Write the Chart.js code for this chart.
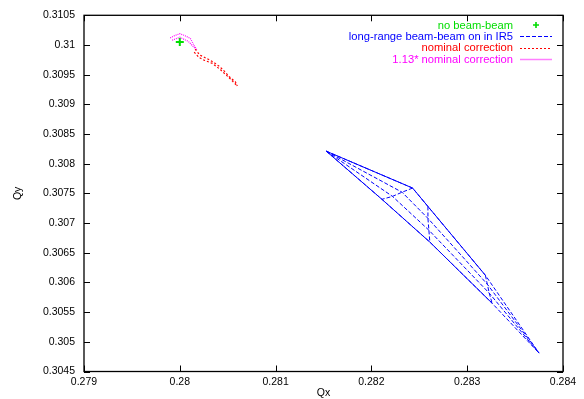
<!DOCTYPE html>
<html>
<head>
<meta charset="utf-8">
<script src="https://cdn.jsdelivr.net/npm/chart.js@4.4.1/dist/chart.umd.min.js"></script>
<style>
  html, body { margin: 0; padding: 0; background: #fff; }
  #wrap { width: 584px; height: 399px; }
</style>
</head>
<body>
<div id="wrap"><canvas id="tune-footprint" width="584" height="399"></canvas></div>
<script>
// axis ranges / ticks
const xTicks = [0.279, 0.284, 0.001];
const yTicks = [0.3045, 0.3105, 0.0005];

// no beam-beam
const greenQx = [0.28];
const greenQy = [0.31005];

// long-range beam-beam in IR5 (footprint mesh, null = pen up)
const blueQx = [
  0.28153, 0.28243, 0.28259, 0.28319, 0.28375, null,
  0.28153, 0.28232, 0.28259, 0.28321, 0.28375, null,
  0.28153, 0.28222, 0.28260, 0.28323, 0.28375, null,
  0.28153, 0.28211, 0.28261, 0.28326, 0.28375, null,
  0.28243, 0.28232, 0.28222, 0.28211, null,
  0.28259, 0.28259, 0.28260, 0.28261, null,
  0.28319, 0.28321, 0.28323, 0.28326
];
const blueQy = [
  0.30821, 0.30759, 0.30728, 0.30612, 0.30481, null,
  0.30821, 0.30752, 0.30708, 0.30597, 0.30481, null,
  0.30821, 0.30745, 0.30688, 0.30582, 0.30481, null,
  0.30821, 0.30740, 0.30668, 0.30565, 0.30481, null,
  0.30759, 0.30752, 0.30745, 0.30740, null,
  0.30728, 0.30708, 0.30688, 0.30668, null,
  0.30612, 0.30597, 0.30582, 0.30565
];
// edges that are traced over several times and look solid
const blueEdgeQx = [0.28153, 0.28243, 0.28319, null, 0.28153, 0.28211, 0.28261, 0.28326];
const blueEdgeQy = [0.30821, 0.30759, 0.30612, null, 0.30821, 0.30740, 0.30668, 0.30565];

// nominal correction
const redQx = [
  0.28016, 0.28021, 0.28026, 0.28032, 0.28037, 0.28042, 0.28047, 0.28052, 0.28058, 0.28060, null,
  0.28015, 0.28020, 0.28026, 0.28034, 0.28042, 0.28052, 0.28060
];
const redQy = [
  0.30993, 0.30983, 0.30979, 0.30974, 0.30969, 0.30963, 0.30955, 0.30946, 0.30938, 0.30931, null,
  0.30988, 0.30979, 0.30974, 0.30969, 0.30959, 0.30944, 0.30931
];

// 1.13* nominal correction
const magentaQx = [
  0.27990, 0.27995, 0.28000, 0.28005, 0.28011, 0.28014, 0.28018, null,
  0.27992, 0.28000, 0.28009, 0.28016
];
const magentaQy = [
  0.31012, 0.31016, 0.31019, 0.31016, 0.31011, 0.31002, 0.30991, null,
  0.31008, 0.31013, 0.31006, 0.30994
];

const FAMILY = '"Liberation Sans", Arial, Helvetica, sans-serif';
const FONT = { family: FAMILY, size: 10.5 };

function pts(xs, ys) {
  return xs.map((x, i) => ({ x: x, y: ys[i] }));
}
function fmt(v) {
  return String(parseFloat(v.toFixed(4)));
}

// gnuplot style frame with inward ticks on all four sides
const framePlugin = {
  id: "gpFrame",
  afterDatasetsDraw(chart) {
    const ctx = chart.ctx;
    const a = chart.chartArea;
    const tl = 6;
    ctx.save();
    ctx.strokeStyle = "#000";
    ctx.lineWidth = 1;
    ctx.setLineDash([]);
    ctx.beginPath();
    chart.scales.x.ticks.forEach((t) => {
      const px = Math.round(chart.scales.x.getPixelForValue(t.value)) + 0.5;
      ctx.moveTo(px, a.bottom); ctx.lineTo(px, a.bottom - tl);
      ctx.moveTo(px, a.top); ctx.lineTo(px, a.top + tl);
    });
    chart.scales.y.ticks.forEach((t) => {
      const py = Math.round(chart.scales.y.getPixelForValue(t.value)) + 0.5;
      ctx.moveTo(a.left, py); ctx.lineTo(a.left + tl, py);
      ctx.moveTo(a.right, py); ctx.lineTo(a.right - tl, py);
    });
    ctx.stroke();
    ctx.lineWidth = 1.3;
    ctx.strokeRect(a.left, a.top, a.right - a.left, a.bottom - a.top);
    ctx.restore();
  },
};

// key in the top right corner: text right aligned, sample to its right
const keyPlugin = {
  id: "gpKey",
  afterDraw(chart) {
    const ctx = chart.ctx;
    const textRight = 513;
    const s0 = 520, s1 = 552;
    let y = 25;
    ctx.save();
    ctx.font = "11.2px " + FAMILY;
    ctx.textAlign = "right";
    ctx.textBaseline = "middle";
    chart.data.datasets.forEach((ds) => {
      if (!ds.label) return;
      ctx.fillStyle = ds.borderColor;
      ctx.fillText(ds.label, textRight, y + 0.5);
      ctx.strokeStyle = ds.borderColor;
      ctx.globalAlpha = 1;
      ctx.beginPath();
      if (ds.showLine === false) {
        ctx.lineWidth = 1.6;
        ctx.setLineDash([]);
        ctx.moveTo(536 - 3, y); ctx.lineTo(536 + 3, y);
        ctx.moveTo(536, y - 3); ctx.lineTo(536, y + 3);
      } else if (ds.borderDash && ds.borderDash[0] === 1) {
        // very fine dots: blend to a light solid tint like the original
        ctx.lineWidth = 1.5;
        ctx.globalAlpha = 0.5;
        ctx.setLineDash([]);
        ctx.moveTo(s0, Math.round(y) + 0.5);
        ctx.lineTo(s1, Math.round(y) + 0.5);
      } else {
        ctx.lineWidth = 1.2;
        ctx.setLineDash(ds.borderDash || []);
        ctx.moveTo(s0, Math.round(y) + 0.5);
        ctx.lineTo(s1, Math.round(y) + 0.5);
      }
      ctx.stroke();
      y += 11.4;
    });
    ctx.restore();
  },
};

new Chart(document.getElementById("tune-footprint"), {
  type: "scatter",
  plugins: [framePlugin, keyPlugin],
  data: {
    datasets: [
      {
        label: "no beam-beam",
        data: pts(greenQx, greenQy),
        showLine: false,
        pointStyle: "cross",
        pointRadius: 4,
        borderWidth: 2,
        borderColor: "#00dd00",
        backgroundColor: "#00dd00",
      },
      {
        label: "long-range beam-beam on in IR5",
        data: pts(blueQx, blueQy),
        showLine: true,
        spanGaps: false,
        pointRadius: 0,
        borderWidth: 1,
        borderDash: [4, 2],
        borderColor: "#0000ff",
      },
      {
        label: "nominal correction",
        data: pts(redQx, redQy),
        showLine: true,
        spanGaps: false,
        pointRadius: 0,
        borderWidth: 1.2,
        borderDash: [2, 2],
        borderColor: "#ff0000",
      },
      {
        label: "1.13* nominal correction",
        data: pts(magentaQx, magentaQy),
        showLine: true,
        spanGaps: false,
        pointRadius: 0,
        borderWidth: 1.2,
        borderDash: [1, 1],
        borderColor: "#ff00ff",
      },
      {
        label: "",
        data: pts(blueEdgeQx, blueEdgeQy),
        showLine: true,
        spanGaps: false,
        pointRadius: 0,
        borderWidth: 1,
        borderColor: "#0000ff",
      },
    ],
  },
  options: {
    responsive: false,
    devicePixelRatio: 1,
    animation: false,
    layout: { padding: { left: 0, right: 21, top: 15, bottom: 0 } },
    plugins: {
      legend: { display: false },
      tooltip: { enabled: false },
    },
    scales: {
      x: {
        type: "linear",
        min: xTicks[0],
        max: xTicks[1],
        afterFit: (s) => { s.height = 27.5; },
        grid: { display: false, drawTicks: false },
        border: { display: false },
        ticks: {
          stepSize: xTicks[2],
          autoSkip: false,
          maxRotation: 0,
          padding: 4,
          color: "#000",
          font: FONT,
          callback: fmt,
        },
        title: { display: true, text: "Qx", color: "#000", font: FONT, padding: { top: 0, bottom: 0 } },
      },
      y: {
        type: "linear",
        min: yTicks[0],
        max: yTicks[1],
        afterFit: (s) => { s.width = 84; },
        grid: { display: false, drawTicks: false },
        border: { display: false },
        ticks: {
          stepSize: yTicks[2],
          autoSkip: false,
          padding: 9,
          color: "#000",
          font: FONT,
          callback: fmt,
        },
        title: { display: true, text: "Qy", color: "#000", font: FONT, padding: { top: 12, bottom: 0 } },
      },
    },
  },
});
</script>
</body>
</html>
